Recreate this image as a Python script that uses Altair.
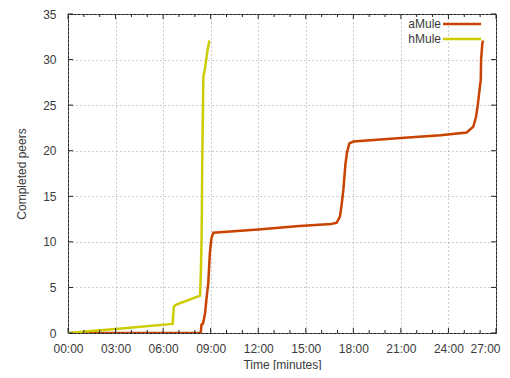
import altair as alt
import pandas as pd

# ---- data (time in minutes, completed peers) ----
amule_t = [0.3, 8.37, 8.42, 8.5, 8.55, 8.65, 8.75, 8.85, 8.95, 9.05, 9.17, 12.0, 14.6, 16.6, 16.95,
           17.16, 17.27, 17.37, 17.5, 17.6, 17.75, 18.0, 21.0, 23.5, 25.15, 25.57, 25.74, 25.85,
           25.95, 26.04, 26.06, 26.14, 26.18]
amule_v = [0, 0, 0.9, 1.0, 1.3, 2.2, 4.0, 5.5, 8.8, 10.4, 11.0, 11.35, 11.75, 11.97, 12.1,
           12.8, 14.2, 15.7, 18.5, 19.8, 20.8, 21.0, 21.4, 21.7, 22.0, 22.65, 23.7, 25.0,
           26.5, 27.8, 30.0, 31.8, 32.1]
hmule_t = [0.0, 3.0, 6.6, 6.68, 6.8, 8.33, 8.38, 8.43, 8.47, 8.54, 8.64, 8.79, 8.92]
hmule_v = [0, 0.45, 1.0, 2.9, 3.1, 4.1, 6.5, 10.6, 19.0, 28.1, 29.0, 30.9, 32.1]

series = ["aMule", "hMule"]
colors = ["#c84200", "#cccc00"]

x_major = list(range(0, 28, 3))
x_minor = [m for m in range(0, 28) if m % 3 != 0]
y_major = list(range(0, 36, 5))

df = pd.concat([
    pd.DataFrame({"t": amule_t, "v": amule_v, "series": "aMule", "order": range(len(amule_t))}),
    pd.DataFrame({"t": hmule_t, "v": hmule_v, "series": "hMule", "order": range(len(hmule_t))}),
])

W, H = 428, 319
FONT = "Liberation Sans"
TXT = "#3a3a3a"

xscale = alt.Scale(domain=[0, 27], nice=False, zero=False)
yscale = alt.Scale(domain=[0, 35], nice=False)

label_expr = "(datum.value < 10 ? '0' : '') + datum.value + ':00'"

lines = alt.Chart(df).mark_line(strokeWidth=2.5, clip=True).encode(
    x=alt.X("t:Q", scale=xscale, title="Time [minutes]",
            axis=alt.Axis(values=x_major, labelExpr=label_expr, tickSize=0, labelPadding=10,
                          labelFlush=False, labelOverlap=False, labelBound=False,
                          labelOffset={"condition": {"test": "datum.value == 27", "value": -11},
                                       "value": 0},
                          grid=True, gridDash=[1, 3], gridColor="#999999", gridWidth=1,
                          domain=False, titlePadding=5)),
    y=alt.Y("v:Q", scale=yscale, title="Completed peers",
            axis=alt.Axis(values=y_major, tickSize=0, labelPadding=12, grid=True,
                          labelFlush=False, labelOverlap=False,
                          gridDash=[1, 3], gridColor="#999999", gridWidth=1, domain=False,
                          titlePadding=14)),
    color=alt.Color("series:N", scale=alt.Scale(domain=series, range=colors), legend=None),
    order="order:Q",
)

# inside tick marks (bottom/top for x, left/right for y)
xmaj = pd.DataFrame({"t": x_major})
xmin = pd.DataFrame({"t": x_minor})
ymaj = pd.DataFrame({"v": y_major})

def xticks(d, ln):
    b = alt.Chart(d).mark_rule(color="#222222", strokeWidth=1).encode(
        x=alt.X("t:Q", scale=xscale), y=alt.value(H), y2=alt.value(H - ln))
    t = alt.Chart(d).mark_rule(color="#222222", strokeWidth=1).encode(
        x=alt.X("t:Q", scale=xscale), y=alt.value(0), y2=alt.value(ln))
    return [b, t]

def yticks(d, ln):
    l = alt.Chart(d).mark_rule(color="#222222", strokeWidth=1).encode(
        y=alt.Y("v:Q", scale=yscale), x=alt.value(0), x2=alt.value(ln))
    r = alt.Chart(d).mark_rule(color="#222222", strokeWidth=1).encode(
        y=alt.Y("v:Q", scale=yscale), x=alt.value(W), x2=alt.value(W - ln))
    return [l, r]

ticks = xticks(xmaj, 5) + xticks(xmin, 3) + yticks(ymaj, 5)

# gnuplot-style key, top right: label then line sample
legend_layers = []
for i, (s, c) in enumerate(zip(series, colors)):
    ypix = 10 + 15 * i
    ld = pd.DataFrame({"series": [s]})
    legend_layers.append(alt.Chart(ld).mark_text(align="right", baseline="middle", font=FONT,
                                                 fontSize=12, color=TXT).encode(
        text="series:N", x=alt.value(W - 55), y=alt.value(ypix)))
    legend_layers.append(alt.Chart(ld).mark_rule(color=c, strokeWidth=2.5).encode(
        x=alt.value(W - 53), x2=alt.value(W - 15), y=alt.value(ypix)))

chart = alt.layer(lines, *ticks, *legend_layers).properties(
    width=W, height=H,
    background="white",
    autosize=alt.AutoSizeParams(type="none"),
    padding={"left": 60, "top": 6, "right": 6, "bottom": 37},
).configure_view(stroke="#222222", strokeWidth=1).configure_axis(
    labelFont=FONT, titleFont=FONT, labelFontSize=12, titleFontSize=12,
    labelColor=TXT, titleColor=TXT, titleFontWeight="normal",
)

chart.save("out.html", embed_options={"renderer": "svg", "actions": False})
